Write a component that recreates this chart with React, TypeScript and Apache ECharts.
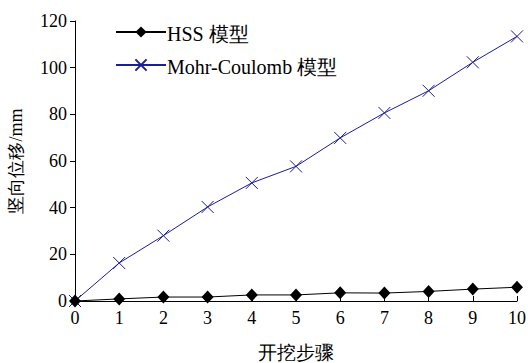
import React, { useEffect, useRef } from "react";
import * as echarts from "echarts";

const steps = [0, 1, 2, 3, 4, 5, 6, 7, 8, 9, 10];
const hssValues = [0, 0.9, 1.7, 1.7, 2.6, 2.6, 3.5, 3.4, 4.1, 5.1, 5.9];
const mcValues = [0, 16.3, 28.0, 40.3, 50.6, 57.7, 69.9, 80.6, 90.1, 102.3, 113.4];
const seriesNames = ["HSS 模型", "Mohr-Coulomb 模型"];
const xTickLabels = [0, 1, 2, 3, 4, 5, 6, 7, 8, 9, 10];
const yTickLabels = [0, 20, 40, 60, 80, 100, 120];
const xAxisName = "开挖步骤";
const yAxisName = "竖向位移/mm";

const FONT = "Times New Roman";
const BLUE = "#1c1c9c";

function txt(x: number, y: number, text: string, align: string, vAlign: string, size: number, rotation = 0) {
  return {
    type: "text",
    x,
    y,
    rotation,
    silent: true,
    z: 10,
    style: {
      text,
      fontFamily: FONT,
      fontSize: size,
      fill: "#000",
      align,
      verticalAlign: vAlign,
      textAlign: align,
      textVerticalAlign: vAlign,
    },
  };
}

export default function App() {
  const ref = useRef<HTMLDivElement>(null);
  useEffect(() => {
    if (!ref.current) return;
    const chart = echarts.init(ref.current, undefined, { renderer: "svg" });
    const legendBase = {
      orient: "vertical",
      left: 115,
      padding: 0,
      itemWidth: 50,
      itemHeight: 14,
      formatter: () => "",
      textStyle: { fontSize: 20, color: "#000" },
    };
    chart.setOption({
      animation: false,
      grid: { left: 75, right: 11, top: 21, bottom: 62, containLabel: false, outerBoundsMode: "none" },
      legend: [
        { ...legendBase, top: 25, data: [seriesNames[0]] },
        { ...legendBase, top: 58, data: [seriesNames[1]] },
      ],
      xAxis: {
        type: "value",
        min: 0,
        max: 10,
        interval: 1,
        axisLine: { show: true, onZero: false, lineStyle: { color: "#000", width: 1 } },
        axisTick: { show: true, inside: true, length: 5, lineStyle: { color: "#000" } },
        axisLabel: { show: false },
        splitLine: { show: false },
      },
      yAxis: {
        type: "value",
        min: 0,
        max: 120,
        interval: 20,
        axisLine: { show: true, lineStyle: { color: "#000", width: 1 } },
        axisTick: { show: true, inside: false, length: 5, lineStyle: { color: "#000" } },
        axisLabel: { show: false },
        splitLine: { show: false },
      },
      series: [
        {
          name: seriesNames[0],
          type: "line",
          data: steps.map((s, i) => [s, hssValues[i]]),
          symbol: "diamond",
          symbolSize: [12, 13],
          clip: false,
          z: 3,
          lineStyle: { color: "#000", width: 1 },
          itemStyle: { color: "#000", borderColor: "#000", borderWidth: 0 },
        },
        {
          name: seriesNames[1],
          type: "line",
          data: steps.map((s, i) => [s, mcValues[i]]),
          symbol: "path://M0,0L10,10M10,0L0,10",
          symbolSize: 12,
          clip: false,
          z: 2,
          lineStyle: { color: BLUE, width: 1 },
          itemStyle: { color: "rgba(0,0,0,0)", borderColor: BLUE, borderWidth: 1 },
        },
      ],
    });

    try {
      const texts: any[] = [];
      yTickLabels.forEach((v) => {
        const p = chart.convertToPixel({ gridIndex: 0 }, [0, v]) as number[];
        texts.push(txt(p[0] - 8, p[1], String(v), "right", "middle", 18));
      });
      xTickLabels.forEach((v) => {
        const p = chart.convertToPixel({ gridIndex: 0 }, [v, 0]) as number[];
        texts.push(txt(p[0], p[1] + 17, String(v), "center", "middle", 18));
      });
      const o = chart.convertToPixel({ gridIndex: 0 }, [0, 0]) as number[];
      const xe = chart.convertToPixel({ gridIndex: 0 }, [10, 0]) as number[];
      const ye = chart.convertToPixel({ gridIndex: 0 }, [0, 120]) as number[];
      texts.push(txt((o[0] + xe[0]) / 2, o[1] + 51, xAxisName, "center", "middle", 19));
      texts.push(txt(o[0] - 59, (o[1] + ye[1]) / 2, yAxisName, "center", "middle", 18, Math.PI / 2));
      texts.push(txt(167, 34, seriesNames[0], "left", "middle", 20));
      texts.push(txt(167, 67, seriesNames[1], "left", "middle", 20));
      chart.setOption({ graphic: texts });
    } catch (e) {
      // ignore
    }
    return () => chart.dispose();
  }, []);
  return <div ref={ref} style={{ width: 528, height: 363, position: "absolute", left: 0, top: 0, background: "#fff" }} />;
}
